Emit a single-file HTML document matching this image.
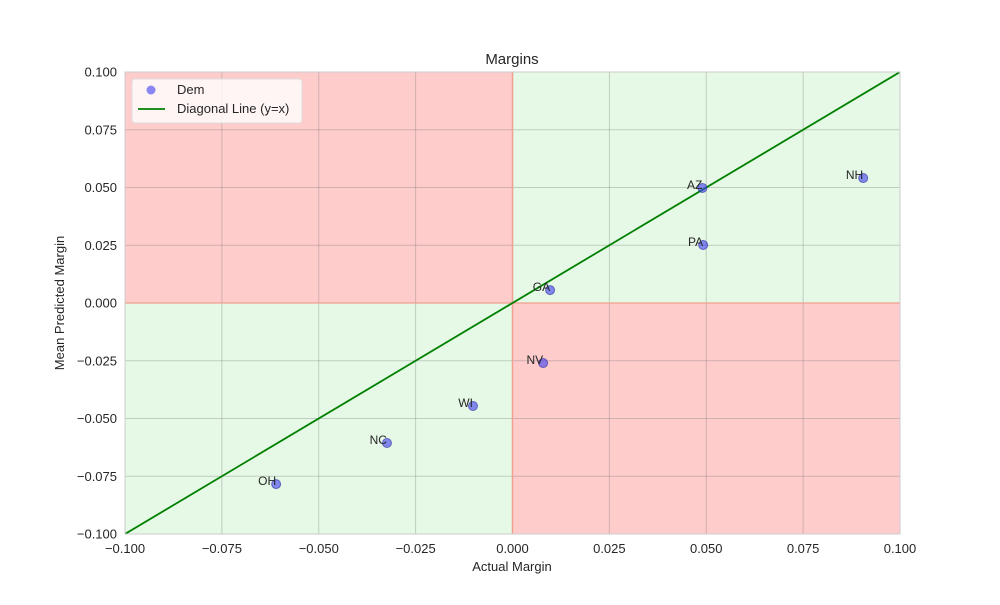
<!DOCTYPE html>
<html><head><meta charset="utf-8"><style>
body{margin:0;background:#fff;font-family:"Liberation Sans",sans-serif}
svg text{font-family:"Liberation Sans",sans-serif}
</style></head><body>
<svg id="chart" width="1000" height="600"></svg>
<script>
const states=["AZ","NH","PA","GA","NV","WI","NC","OH"];
const actual=[0.049,0.0905,0.0492,0.0097,0.0079,-0.0102,-0.0324,-0.061];
const predicted=[0.0498,0.0541,0.0251,0.0056,-0.026,-0.0446,-0.0606,-0.0784];
const ticks=[-0.1,-0.075,-0.05,-0.025,0,0.025,0.05,0.075,0.1];
const tickLabels=["−0.100","−0.075","−0.050","−0.025","0.000","0.025","0.050","0.075","0.100"];
const L=125,R=900,T=72,B=534;
const sx=v=>L+(v+0.1)/0.2*(R-L);
const sy=v=>B-(v+0.1)/0.2*(B-T);
const svg=document.getElementById('chart');
const NS='http://www.w3.org/2000/svg';
function mk(tag,attrs,name,text){const e=document.createElementNS(NS,tag);for(const k in attrs)e.setAttribute(k,attrs[k]);


if(text!==undefined)e.textContent=text;svg.appendChild(e);return e;}
mk('rect',{x:L,y:T,width:R-L,height:B-T,fill:'#eaeaf2'},'plot-background');
mk('rect',{x:L,y:T,width:sx(0)-L,height:sy(0)-T,fill:'#ffcccc'},'quadrant-top-left');
mk('rect',{x:sx(0),y:T,width:R-sx(0),height:sy(0)-T,fill:'#e6f9e6'},'quadrant-top-right');
mk('rect',{x:L,y:sy(0),width:sx(0)-L,height:B-sy(0),fill:'#e6f9e6'},'quadrant-bottom-left');
mk('rect',{x:sx(0),y:sy(0),width:R-sx(0),height:B-sy(0),fill:'#ffcccc'},'quadrant-bottom-right');
ticks.forEach((t,i)=>{
 mk('line',{x1:sx(t),x2:sx(t),y1:T,y2:B,stroke:'rgba(120,120,120,0.35)','stroke-width':1},'x-gridline');
 mk('line',{x1:L,x2:R,y1:sy(t),y2:sy(t),stroke:'rgba(120,120,120,0.35)','stroke-width':1},'y-gridline');
 mk('text',{x:sx(t),y:553,'text-anchor':'middle','font-size':13,fill:'#262626'},'x-tick-label',tickLabels[i]);
 mk('text',{x:L-8,y:sy(t)+4.5,'text-anchor':'end','font-size':13,fill:'#262626'},'y-tick-label',tickLabels[i]);
});
mk('line',{x1:sx(0),x2:sx(0),y1:T,y2:B,stroke:'#f0a090','stroke-width':1.5},'vertical-zero-line');
mk('line',{x1:L,x2:R,y1:sy(0),y2:sy(0),stroke:'#f0a090','stroke-width':1.2},'horizontal-zero-line');
mk('line',{x1:sx(-0.1),y1:sy(-0.1),x2:sx(0.1),y2:sy(0.1),stroke:'#008000','stroke-width':1.8},'diagonal-line');
states.forEach((s,i)=>{
 mk('circle',{cx:sx(actual[i]),cy:sy(predicted[i]),r:4.5,fill:'rgba(60,60,240,0.6)',stroke:'rgba(40,40,160,0.6)','stroke-width':1},'point-'+s.toLowerCase());
 mk('text',{x:sx(actual[i]),y:sy(predicted[i])+1,'text-anchor':'end','font-size':12,fill:'#262626'},'label-'+s.toLowerCase(),s);
});
mk('rect',{x:L,y:T,width:R-L,height:B-T,fill:'none',stroke:'#cccccc','stroke-width':1},'plot-border');
mk('text',{x:512,y:64,'text-anchor':'middle','font-size':15,fill:'#262626'},'chart-title','Margins');
mk('text',{x:512,y:571,'text-anchor':'middle','font-size':13,fill:'#262626'},'x-axis-title','Actual Margin');
mk('text',{x:64,y:303,'text-anchor':'middle','font-size':13,fill:'#262626',transform:'rotate(-90 64 303)'},'y-axis-title','Mean Predicted Margin');
mk('rect',{x:132,y:79,width:170,height:44,rx:3,fill:'rgba(255,255,255,0.8)',stroke:'#dddddd'},'legend-box');
mk('circle',{cx:151,cy:90,r:4.5,fill:'rgba(60,60,240,0.6)'},'legend-dem-marker');
mk('text',{x:177,y:94,'font-size':13,fill:'#262626'},'legend-dem-label','Dem');
mk('line',{x1:138,x2:165,y1:109,y2:109,stroke:'#008000','stroke-width':1.8},'legend-diagonal-marker');
mk('text',{x:177,y:113,'font-size':13,fill:'#262626'},'legend-diagonal-label','Diagonal Line (y=x)');
</script>
</body></html>
